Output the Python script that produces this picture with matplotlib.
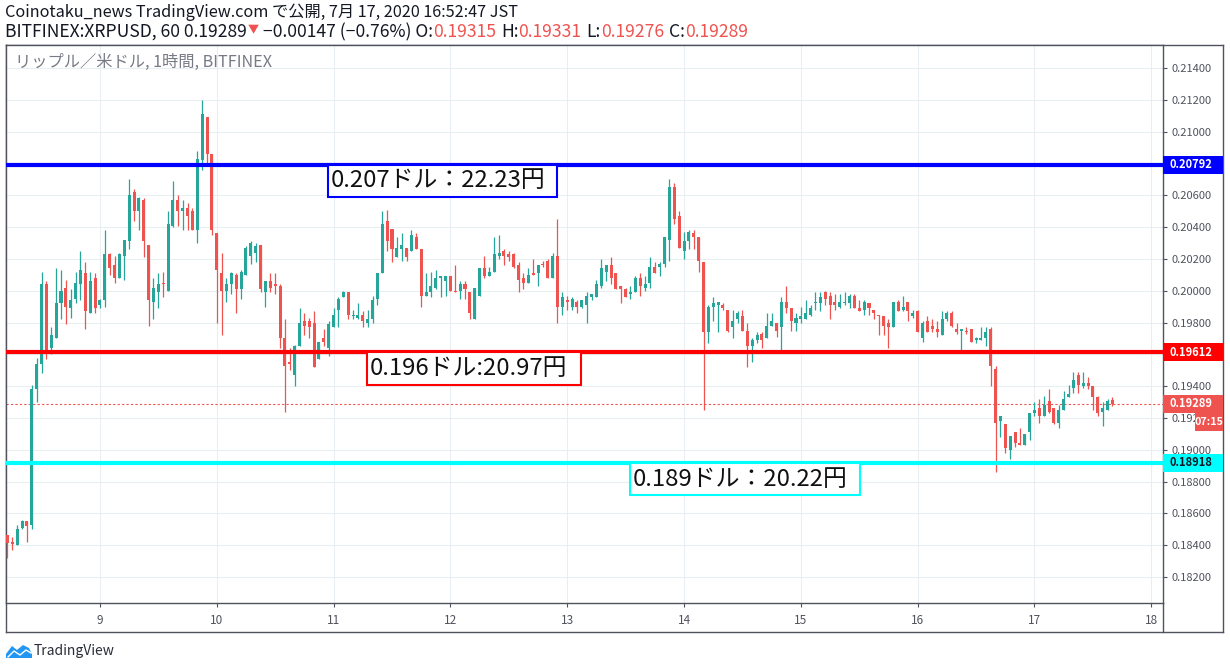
import numpy as np
import matplotlib
matplotlib.use("Agg")
import matplotlib.pyplot as plt
from matplotlib.patches import Rectangle, Polygon
from matplotlib.lines import Line2D

plt.rcParams['font.family'] = ['Noto Sans CJK JP', 'DejaVu Sans']

# ---------------- DATA (XRPUSD 1h, from 7/8 05:00) ---------------- #
start_hour = 5
day_labels = ["9", "10", "11", "12", "13", "14", "15", "16", "17", "18"]

opens = [
    .18465, .1842, .1840, .1851, .1855, .1853, .1938, .1954, .2004, .1964, .1970, .1992,
    .2002, .1989, .1995, .2004, .2011, .1986, .2008, .1991, .1994, .2023, .2016, .2008,
    .2022, .2031, .2062, .2050, .2057, .2029, .1993, .1999, .2005, .2000, .2041, .2057,
    .2050, .2052, .2050, .2038, .2082, .2109, .2086, .2036, .2011, .2000, .2004, .2010,
    .2001, .2010, .2022, .2024, .2029, .1999, .2006, .2004, .2003, .1970, .1955, .1947,
    .1965, .1981, .1981, .1980, .1957, .1970, .1964, .1977, .1988, .1996, .1999, .1984,
    .1983, .1985, .1980, .1982, .1995, .2011, .2044, .2039, .2021, .2026, .2027, .2025,
    .2034, .2026, .1997, .1999, .2002, .2008, .2006, .2009, .2000, .2000, .2004, .1999,
    .1982, .1997, .2014, .2009, .2012, .2022, .2025, .2023, .2023, .2016, .2008, .2005,
    .2011, .2011, .2017, .2019, .2008, .2022, .1990, .1994, .1990, .1993, .1990, .1991,
    .1996, .1996, .2003, .2012, .2016, .2011, .2003, .2001, .1998, .1999, .2008, .2002,
    .2005, .2015, .2015, .2017, .2032, .2065, .2047, .2025, .2031, .2036, .2034, .2018,
    .1974, .1990, .1991, .1991, .1988, .1977, .1982, .1984, .1975, .1965, .1969, .1973,
    .1970, .1978, .1980, .1977, .1993, .1989, .1980, .1982, .1982, .1985, .1992, .1992,
    .1999, .1997, .1993, .1990, .1992, .1992, .1997, .1989, .1988, .1992, .1988, .1985,
    .1984, .1980, .1977, .1993, .1988, .1993, .1984, .1987, .1970, .1981, .1978, .1976,
    .1972, .1982, .1986, .1976, .1975, .1975, .1976, .1969, .1969, .1970, .1976, .1951,
    .1918, .1916, .1900, .1911, .1904, .1903, .1911, .1923, .1926, .1921, .1931, .1926,
    .1917, .1925, .1933, .1939, .1947, .1940, .1942, .1940, .1933, .1924, .1925, .19315,
]
highs = [
    .18465, .1845, .1853, .1856, .1855, .1941, .1958, .2012, .2006, .1977, .2014, .2013,
    .2007, .2001, .2012, .2025, .2018, .2012, .2011, .1995, .2038, .2024, .2022, .2024,
    .2032, .2070, .2064, .2059, .2058, .2029, .2008, .2011, .2012, .2050, .2069, .2060,
    .2057, .2055, .2052, .2088, .2120, .2109, .2086, .2036, .2024, .2008, .2012, .2011,
    .2013, .2028, .2031, .2030, .2029, .2006, .2011, .2011, .2004, .1982, .1964, .1966,
    .1989, .1986, .1983, .1987, .1968, .1976, .1981, .1989, .1996, .2000, .1999, .1988,
    .1992, .1987, .1988, .1997, .2011, .2050, .2051, .2039, .2034, .2036, .2027, .2038,
    .2036, .2026, .2011, .2012, .2013, .2009, .2009, .2009, .2016, .2006, .2006, .1999,
    .2002, .2014, .2022, .2015, .2034, .2035, .2026, .2025, .2024, .2018, .2011, .2014,
    .2020, .2016, .2019, .2020, .2024, .2045, .1999, .1997, .1996, .1994, .1994, .1999,
    .1998, .2007, .2020, .2016, .2021, .2011, .2003, .2002, .2003, .2009, .2011, .2009,
    .2021, .2018, .2018, .2034, .2070, .2068, .2050, .2037, .2038, .2038, .2034, .2018,
    .1991, .1996, .1993, .1992, .1988, .1988, .1987, .1988, .1980, .1970, .1974, .1974,
    .1986, .1986, .1980, .1996, .2003, .1989, .1986, .1990, .1994, .1991, .1999, .1999,
    .2000, .1999, .1998, .1998, .1999, .1998, .1998, .1994, .1994, .1992, .1988, .1985,
    .1984, .1982, .1993, .1994, .1997, .1993, .1988, .1988, .1981, .1984, .1982, .1981,
    .1987, .1987, .1987, .1980, .1976, .1977, .1976, .1971, .1977, .1977, .1977, .1953,
    .1921, .1916, .1909, .1911, .1914, .1910, .1923, .1930, .1932, .1934, .1938, .1926,
    .1928, .1937, .1941, .1949, .1949, .1949, .1946, .1940, .1934, .1930, .1932, .19331,
]
lows = [
    .18320, .1837, .1840, .1850, .1842, .1850, .1930, .1948, .1957, .1960, .1970, .1982,
    .1979, .1983, .1992, .1994, .1976, .1986, .1986, .1989, .1990, .2010, .2005, .2008,
    .2007, .2026, .2044, .2038, .2021, .1978, .1982, .1989, .1996, .2000, .2040, .2041,
    .2038, .2038, .2038, .2030, .2076, .2080, .2035, .1980, .1972, .1993, .1998, .1986,
    .1995, .2010, .2017, .2018, .1999, .1990, .1999, .1998, .1964, .1924, .1950, .1940,
    .1965, .1972, .1970, .1952, .1957, .1965, .1959, .1977, .1977, .1996, .1982, .1982,
    .1982, .1977, .1977, .1980, .1991, .2011, .2025, .2018, .2021, .2019, .2019, .2025,
    .2026, .1990, .1997, .1996, .2001, .1996, .1997, .2000, .1999, .1995, .1995, .1982,
    .1982, .1997, .2008, .2009, .2012, .2020, .2016, .2019, .2014, .1999, .2001, .2005,
    .2010, .2003, .2015, .2008, .2008, .1980, .1985, .1988, .1988, .1986, .1989, .1980,
    .1994, .1996, .2002, .2006, .2004, .2001, .1992, .1996, .1995, .1999, .1997, .2000,
    .2002, .2011, .2009, .2015, .2019, .2042, .2027, .2020, .2026, .2026, .2012, .1925,
    .1967, .1981, .1974, .1988, .1974, .1970, .1980, .1975, .1952, .1955, .1967, .1964,
    .1970, .1978, .1971, .1963, .1986, .1975, .1975, .1980, .1982, .1984, .1988, .1987,
    .1991, .1982, .1988, .1989, .1991, .1989, .1989, .1987, .1985, .1985, .1982, .1972,
    .1972, .1964, .1977, .1987, .1987, .1981, .1983, .1974, .1968, .1974, .1974, .1971,
    .1972, .1981, .1977, .1973, .1963, .1973, .1968, .1967, .1969, .1965, .1940, .1886,
    .1908, .1898, .1894, .1902, .1903, .1903, .1906, .1921, .1917, .1921, .1923, .1916,
    .1914, .1925, .1933, .1936, .1936, .1939, .1938, .1925, .1921, .1915, .1925, .19276,
]
closes = [
    .18415, .1841, .1850, .1855, .1852, .1938, .1954, .2004, .1962, .1972, .1992, .2000,
    .1990, .1994, .2005, .2013, .1987, .2006, .1989, .1994, .2023, .2014, .2008, .2023,
    .2032, .2060, .2050, .2058, .2031, .1994, .2002, .2004, .2004, .2042, .2057, .2050,
    .2052, .2047, .2038, .2083, .2111, .2086, .2038, .2013, .2000, .2004, .2011, .2001,
    .2012, .2027, .2030, .2028, .2001, .2006, .2002, .2003, .1970, .1953, .1954, .1965,
    .1980, .1978, .1977, .1952, .1968, .1968, .1979, .1985, .1995, .1999, .1985, .1985,
    .1985, .1981, .1982, .1994, .2011, .2042, .2031, .2026, .2027, .2029, .2021, .2035,
    .2026, .1997, .1999, .2003, .2008, .2009, .2009, .2000, .1999, .2004, .2001, .1986,
    .2002, .2014, .2009, .2012, .2023, .2024, .2022, .2021, .2015, .2007, .2005, .2010,
    .2010, .2016, .2016, .2008, .2022, .1990, .1996, .1993, .1995, .1990, .1994, .1997,
    .1998, .2004, .2014, .2016, .2008, .2001, .2001, .1996, .1999, .2008, .2003, .2004,
    .2015, .2011, .2017, .2034, .2065, .2045, .2027, .2031, .2037, .2034, .2019, .1974,
    .1990, .1992, .1993, .1989, .1975, .1981, .1986, .1975, .1965, .1969, .1972, .1969,
    .1978, .1981, .1975, .1993, .1989, .1981, .1983, .1984, .1986, .1989, .1993, .1996,
    .1995, .1991, .1991, .1993, .1993, .1997, .1989, .1987, .1993, .1989, .1986, .1984,
    .1978, .1977, .1993, .1987, .1990, .1987, .1986, .1974, .1980, .1974, .1976, .1974,
    .1982, .1986, .1978, .1974, .1976, .1974, .1968, .1970, .1970, .1974, .1953, .1917,
    .1921, .1901, .1909, .1904, .1903, .1910, .1923, .1925, .1921, .1928, .1924, .1917,
    .1925, .1932, .1935, .1944, .1941, .1942, .1940, .1933, .1923, .1926, .1931, .19289,
]

# horizontal levels and their notes
levels = [0.20792, 0.19612, 0.18918]
level_colors = ["#0000ff", "#ff0000", "#00ffff"]
notes = ["0.207ドル：22.23円", "0.196ドル:20.97円", "0.189ドル：20.22円"]
note_x = [(65.9, 112.9), (73.9, 117.8), (127.9, 175.1)]   # candle-index extents
note_h = 0.00203
last_price = 0.19289

UP = "#26a69a"
DOWN = "#ef5350"
GRID = "#e9eef2"
AXC = "#50535e"

W, H = 1230, 669
fig = plt.figure(figsize=(W / 100, H / 100), dpi=100)

# outer panel frame
frame = fig.add_axes([6 / W, 1 - 632 / H, (1223 - 6) / W, (632 - 45) / H], zorder=-1)
frame.set_xticks([])
frame.set_yticks([])
for s in frame.spines.values():
    s.set_color(AXC)
    s.set_linewidth(1)

ax = fig.add_axes([6 / W, 1 - 603 / H, (1163 - 6) / W, (603 - 45) / H])
ax.set_facecolor("white")

o = np.array(opens)
h = np.array(highs)
l = np.array(lows)
c = np.array(closes)
x = np.arange(len(o))
cols = np.where(c >= o, UP, DOWN)

# ---------------- CANDLES ---------------- #
ax.vlines(x, l, h, colors=cols, linewidth=0.9, zorder=3)
body = np.maximum(np.abs(c - o), 0.00006)
ax.bar(x, body, bottom=np.minimum(o, c), width=0.62, color=cols, linewidth=0, zorder=3)

ax.set_xlim(-0.3, 237.4)
ax.set_ylim(0.18037, 0.21545)

# ---------------- GRID / AXES ---------------- #
day_ticks = np.arange(24 - start_hour, 24 - start_hour + 24 * len(day_labels), 24)
ax.set_xticks(day_ticks)
ax.set_xticklabels(day_labels)
yt = np.arange(0.182, 0.2141, 0.002)
ax.set_yticks(yt)
# labels sitting right under a level tag are hidden by it
hidden = [0.208, 0.196]
ax.set_yticklabels(["" if any(abs(v - hv) < 1e-6 for hv in hidden) else "%.5f" % v
                    for v in yt])
ax.yaxis.tick_right()
ax.tick_params(axis="y", labelsize=8, colors=AXC, length=3, pad=3)
ax.tick_params(axis="x", labelsize=8.5, colors=AXC, length=3, pad=5)
ax.grid(True, color=GRID, linewidth=0.8)
ax.set_axisbelow(True)
for s in ax.spines.values():
    s.set_color(AXC)
    s.set_linewidth(1)

# current price dashed line
ax.axhline(last_price, color=DOWN, linewidth=0.8, linestyle=(0, (2, 2)), zorder=2)

# ---------------- LEVELS + NOTES ---------------- #
for lv, lc, txt, (x0, x1) in zip(levels, level_colors, notes, note_x):
    ax.axhline(lv, color=lc, linewidth=3, zorder=4)
    ax.add_patch(Rectangle((x0, lv - note_h), x1 - x0, note_h, facecolor="white",
                           edgecolor=lc, linewidth=1.5, zorder=5))
    ax.text(x0 + 0.5, lv - note_h / 2, txt, fontsize=17.2, va="center", ha="left",
            color="#111111", zorder=6)

# ---------------- PRICE TAGS ---------------- #
tw = 60 / 1157
th = 0.00113
tags = [(levels[0], "%.5f" % levels[0], level_colors[0], "white"),
        (levels[1], "%.5f" % levels[1], level_colors[1], "white"),
        (last_price, "%.5f" % last_price, DOWN, "white"),
        (levels[2], "%.5f" % levels[2], level_colors[2], "#131722")]
yx = ax.get_yaxis_transform()
for p, s, bg, fg in tags:
    ax.add_patch(Rectangle((1.0, p - th / 2), tw, th, transform=yx, facecolor=bg,
                           edgecolor="none", clip_on=False, zorder=7))
    ax.text(1.0 + 6 / 1157, p, s, transform=yx, fontsize=8, fontweight="bold",
            color=fg, va="center", ha="left", clip_on=False, zorder=8)
# countdown tag
cd_p = 0.19178
ax.add_patch(Rectangle((1.0 + 32 / 1157, cd_p - 0.0006), 28 / 1157, 0.0012, transform=yx,
                       facecolor=DOWN, edgecolor="none", clip_on=False, zorder=7))
ax.text(1.0 + 46 / 1157, cd_p, "07:15", transform=yx, fontsize=7.8, fontweight="bold",
        color="white", va="center", ha="center", clip_on=False, zorder=8)

# separator under the price scale
fig.add_artist(Line2D([1163 / W, 1163 / W], [1 - 603 / H, 1 - 632 / H],
                      color=AXC, linewidth=1))

# ---------------- TEXTS ---------------- #
fig.text(15 / W, 1 - 62 / H, "リップル／米ドル, 1時間, BITFINEX", fontsize=11.7,
         color="#787b86", va="center")

fig.text(5 / W, 1 - 12 / H, "Coinotaku_news TradingView.com で公開, 7月 17, 2020 16:52:47 JST",
         fontsize=11.7, color="#131722", va="center")

renderer = fig.canvas.get_renderer()
parts = [("BITFINEX:XRPUSD, 60 0.19289", "#131722", 0, 12.6, 32),
         ("▼", DOWN, 1, 8, 30),
         ("−0.00147 (−0.76%) O:", "#131722", 4, 12.6, 32),
         ("0.19315", DOWN, 0, 12.6, 32),
         ("H:", "#131722", 5, 12.6, 32),
         ("0.19331", DOWN, 0, 12.6, 32),
         ("L:", "#131722", 5, 12.6, 32),
         ("0.19276", DOWN, 0, 12.6, 32),
         ("C:", "#131722", 5, 12.6, 32),
         ("0.19289", DOWN, 0, 12.6, 32)]
xp = 5
for s, col, gap, fs, yy in parts:
    xp += gap
    t = fig.text(xp / W, 1 - yy / H, s, fontsize=fs, color=col, va="center")
    xp += t.get_window_extent(renderer).width

# TradingView logo
fig.add_artist(Polygon([(6 / W, 1 - 658 / H), (6 / W, 1 - 654 / H), (12 / W, 1 - 646 / H),
                        (17 / W, 1 - 650 / H), (23 / W, 1 - 645 / H), (29 / W, 1 - 648 / H),
                        (32 / W, 1 - 654 / H), (32 / W, 1 - 658 / H)],
                       closed=True, facecolor="#2196f3", edgecolor="none"))
fig.add_artist(Line2D([8 / W, 14 / W, 20 / W, 26 / W, 31 / W],
                      [1 - 657 / H, 1 - 651 / H, 1 - 655 / H, 1 - 650 / H, 1 - 653 / H],
                      color="white", linewidth=1))
fig.text(34 / W, 1 - 651 / H, "TradingView", fontsize=10, color="#2a2e39", va="center")

fig.savefig("out.png", dpi=100)
